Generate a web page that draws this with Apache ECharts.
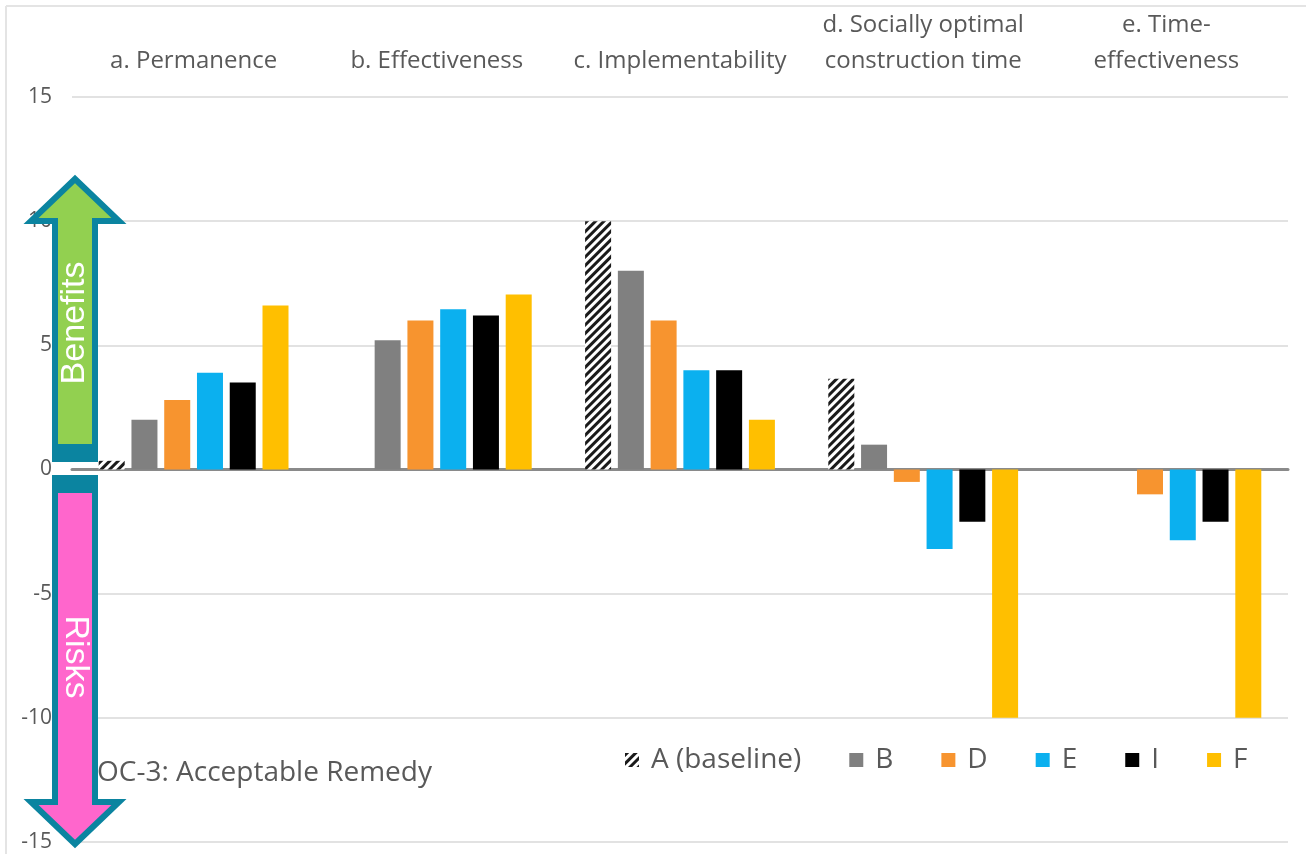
<!DOCTYPE html>
<html>
<head>
<meta charset="utf-8">
<style>
  html, body { margin: 0; padding: 0; background: #fff; }
  #chart { width: 1306px; height: 854px; }
</style>
<script src="https://cdn.jsdelivr.net/npm/echarts@6/dist/echarts.min.js"></script>
</head>
<body>
<div id="chart"></div>
<script>
// Criteria scored for each remedial alternative
const categories = [
  'a. Permanence',
  'b. Effectiveness',
  'c. Implementability',
  'd. Socially optimal\nconstruction time',
  'e. Time-\neffectiveness'
];
const seriesNames = ['A (baseline)', 'B', 'D', 'E', 'I', 'F'];
const valuesA = [0.35, 0, 10, 3.65, 0];
const valuesB = [2, 5.2, 8, 1, 0];
const valuesD = [2.8, 6, 6, -0.5, -1];
const valuesE = [3.9, 6.45, 4, -3.2, -2.85];
const valuesI = [3.5, 6.2, 4, -2.1, -2.1];
const valuesF = [6.6, 7.05, 2, -10, -10];
const yTicks = { min: -15, max: 15, step: 5 };

const seriesValues = [valuesA, valuesB, valuesD, valuesE, valuesI, valuesF];
const seriesColors = ['#ffffff', '#808080', '#f7942f', '#0bb0ef', '#000000', '#ffbf00'];

const textFont = "'Open Sans', 'Noto Sans', sans-serif";
const textColor = '#595959';

const chart = echarts.init(document.getElementById('chart'), null, { renderer: 'canvas' });

const series = seriesNames.map((name, i) => {
  const s = {
    name: name,
    type: 'bar',
    xAxisIndex: 0,
    data: seriesValues[i],
    barWidth: 26,
    barGap: '26%',
    itemStyle: { color: seriesColors[i] },
    emphasis: { disabled: true },
    animation: false
  };
  if (i === 0) {
    // baseline drawn with black diagonal hatching
    s.itemStyle = {
      color: '#ffffff',
      decal: {
        symbol: 'rect',
        color: '#1a1a1a',
        dashArrayX: [1, 0],
        dashArrayY: [2.5, 3],
        rotation: -Math.PI / 4
      }
    };
  }
  return s;
});

// Double-headed benefit / risk arrow on the left of the plot
const arrowStroke = '#0b84a0';
const graphics = [
  { type: 'line', shape: { x1: 6, y1: 6, x2: 1306, y2: 6 }, style: { stroke: '#e4e4e4', lineWidth: 2 }, silent: true },
  { type: 'line', shape: { x1: 6, y1: 6, x2: 6, y2: 854 }, style: { stroke: '#e4e4e4', lineWidth: 2 }, silent: true },
  {
    type: 'polygon',
    shape: { points: [[55, 456], [55, 221], [31, 221], [75, 179], [119, 221], [95, 221], [95, 456]] },
    style: { fill: '#92d050', stroke: arrowStroke, lineWidth: 6, lineJoin: 'miter' },
    z: 100
  },
  { type: 'rect', shape: { x: 52, y: 444, width: 46, height: 18 }, style: { fill: arrowStroke }, z: 101 },
  {
    type: 'polygon',
    shape: { points: [[55, 480], [55, 802], [31, 802], [75, 844], [119, 802], [95, 802], [95, 480]] },
    style: { fill: '#ff66cc', stroke: arrowStroke, lineWidth: 6, lineJoin: 'miter' },
    z: 100
  },
  { type: 'rect', shape: { x: 52, y: 475, width: 46, height: 18 }, style: { fill: arrowStroke }, z: 101 },
  {
    type: 'text', x: 75, y: 323, rotation: Math.PI / 2,
    style: { text: 'Benefits', fill: '#ffffff', font: "34px 'Liberation Sans', Arial, sans-serif", align: 'center', verticalAlign: 'middle' },
    z: 102
  },
  {
    type: 'text', x: 75, y: 657, rotation: -Math.PI / 2,
    style: { text: 'Risks', fill: '#ffffff', font: "34px 'Liberation Sans', Arial, sans-serif", align: 'center', verticalAlign: 'middle' },
    z: 102
  },
  {
    type: 'text', x: 97, y: 773,
    style: { text: 'OC-3: Acceptable Remedy', fill: textColor, font: "28px " + textFont, align: 'left', verticalAlign: 'middle' },
    z: 50
  }
];

chart.setOption({
  animation: false,
  backgroundColor: '#ffffff',
  textStyle: { fontFamily: textFont },
  grid: { left: 72, right: 18, top: 97, bottom: 12, containLabel: false },
  legend: {
    data: seriesNames,
    left: 620,
    top: 741,
    itemWidth: 14,
    itemHeight: 14,
    itemGap: 48,
    icon: 'rect',
    textStyle: { color: textColor, fontSize: 28, fontFamily: textFont, padding: [0, 0, 0, 7] },
    selectedMode: false
  },
  xAxis: [
    {
      type: 'category',
      data: categories,
      position: 'top',
      axisLine: { show: false, onZero: false },
      axisTick: { show: false },
      axisLabel: {
        color: textColor,
        fontSize: 24,
        fontFamily: textFont,
        lineHeight: 36,
        margin: 18,
        interval: 0
      },
      splitLine: { show: false }
    },
    {
      // zero baseline
      type: 'category',
      data: categories,
      position: 'bottom',
      axisLine: { show: true, onZero: true, lineStyle: { color: '#8a8a8a', width: 3 } },
      axisTick: { show: false },
      axisLabel: { show: false },
      splitLine: { show: false }
    }
  ],
  yAxis: {
    type: 'value',
    min: yTicks.min,
    max: yTicks.max,
    interval: yTicks.step,
    axisLine: { show: false },
    axisTick: { show: false },
    axisLabel: { color: textColor, fontSize: 21, fontFamily: textFont, margin: 20 },
    splitLine: { lineStyle: { color: '#d9d9d9', width: 1.5 } }
  },
  series: series,
  graphic: graphics
});
</script>
</body>
</html>
